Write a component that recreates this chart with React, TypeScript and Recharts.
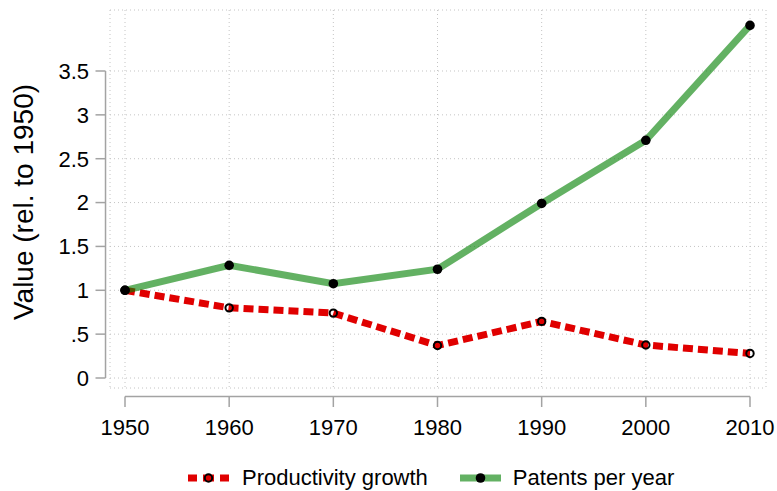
import React from 'react';
import { LineChart, Line, XAxis, YAxis, CartesianGrid, ReferenceLine, Legend } from 'recharts';

const years = [1950, 1960, 1970, 1980, 1990, 2000, 2010];
const productivityGrowth = [1, 0.8, 0.74, 0.37, 0.645, 0.376, 0.28];
const patentsPerYear = [1, 1.285, 1.075, 1.24, 1.99, 2.71, 4.02];
const yTicks = [0, 0.5, 1, 1.5, 2, 2.5, 3, 3.5];
const yTickLabels = ['0', '.5', '1', '1.5', '2', '2.5', '3', '3.5'];
const seriesNames = ['Productivity growth', 'Patents per year'];
const yTitle = 'Value (rel. to 1950)';
const yDomain = [-0.114, 4.1954];

const data = years.map((year, i) => ({
  year,
  productivity: productivityGrowth[i],
  patents: patentsPerYear[i],
}));

const FONT = '"Liberation Sans", Arial, Helvetica, sans-serif';
const AXIS_COLOR = '#a3a3a3';
const GRID_COLOR = '#c4c4c4';
const RED = '#e00000';
const GREEN = '#008000';
const GREEN_OPACITY = 0.61;

// axis line placements (Stata-style detached axes)
const Y_AXIS_LINE_X = 1948.13;
const X_AXIS_LINE_Y = -0.211;

const XTick = (props: any) => {
  const { x, y, payload } = props;
  return (
    <g>
      <line x1={x} x2={x} y1={y + 8.5} y2={y + 19} stroke={AXIS_COLOR} strokeWidth={1.5} />
      <text x={x} y={y + 46.5} textAnchor="middle" fontFamily={FONT} fontSize={22} fill="#000">
        {payload.value}
      </text>
    </g>
  );
};

const YTick = (props: any) => {
  const { x, y, payload } = props;
  const idx = yTicks.indexOf(payload.value);
  const label = idx >= 0 ? yTickLabels[idx] : String(payload.value);
  return (
    <g>
      <line x1={x - 14.5} x2={x - 4.5} y1={y} y2={y} stroke={AXIS_COLOR} strokeWidth={1.5} />
      <text x={x - 21} y={y} dy="0.36em" textAnchor="end" fontFamily={FONT} fontSize={22} fill="#000">
        {label}
      </text>
    </g>
  );
};

const YTitle = (props: any) => {
  const vb = props.viewBox || { x: 0, y: 10, width: 110, height: 378 };
  const cx = 32.5;
  const cy = vb.y + vb.height / 2 + 3;
  return (
    <text
      x={cx}
      y={cy}
      transform={`rotate(-90, ${cx}, ${cy})`}
      textAnchor="middle"
      fontFamily={FONT}
      fontSize={28}
      fill="#000"
    >
      {yTitle}
    </text>
  );
};

const GreenDot = (props: any) => {
  const { cx, cy, index } = props;
  return <circle key={`g-${index}`} cx={cx} cy={cy} r={4.8} fill="#000" stroke="none" />;
};

const RedDot = (props: any) => {
  const { cx, cy, index } = props;
  return <circle key={`r-${index}`} cx={cx} cy={cy} r={3.7} fill="none" stroke="#000" strokeWidth={2} />;
};

const LegendContent = () => (
  <div
    style={{
      position: 'relative',
      height: 28,
      fontFamily: FONT,
      fontSize: 22,
      color: '#000',
      display: 'flex',
      alignItems: 'center',
      paddingLeft: 188,
      whiteSpace: 'nowrap',
    }}
  >
    <svg width={41} height={14} style={{ display: 'block' }}>
      <rect x={0} y={3.5} width={9} height={7} fill={RED} />
      <rect x={15} y={3.5} width={11} height={7} fill={RED} />
      <rect x={32} y={3.5} width={9} height={7} fill={RED} />
      <circle cx={20.5} cy={7} r={3.7} fill="none" stroke="#000" strokeWidth={2} />
    </svg>
    <span style={{ marginLeft: 13, lineHeight: '28px' }}>{seriesNames[0]}</span>
    <svg width={41} height={14} style={{ display: 'block', marginLeft: 32 }}>
      <rect x={0} y={3.5} width={41} height={7} fill={GREEN} fillOpacity={GREEN_OPACITY} />
      <circle cx={20.5} cy={7} r={4.8} fill="#000" />
    </svg>
    <span style={{ marginLeft: 12, lineHeight: '28px' }}>{seriesNames[1]}</span>
  </div>
);

function YTitleLabel(props: any) {
  return <YTitle {...props} />;
}

export default function App() {
  return (
    <div style={{ position: 'absolute', left: 0, top: 0, width: 777, height: 491, background: '#fff' }}>
      <LineChart
        width={777}
        height={491}
        data={data}
        margin={{ top: 10, right: 11, left: 0, bottom: 43 }}
      >
        <CartesianGrid stroke={GRID_COLOR} strokeDasharray="1 3" strokeWidth={1} />
        <XAxis
          dataKey="year"
          type="number"
          domain={[1950, 2010]}
          ticks={years}
          padding={{ left: 15, right: 16 }}
          axisLine={false}
          tickLine={false}
          tickSize={0}
          tickMargin={0}
          height={60}
          tick={<XTick />}
          interval={0}
        />
        <YAxis
          type="number"
          domain={yDomain}
          ticks={yTicks}
          allowDataOverflow
          axisLine={false}
          tickLine={false}
          tickSize={0}
          tickMargin={0}
          width={110}
          tick={<YTick />}
          interval={0}
          label={<YTitleLabel />}
        />
        <ReferenceLine
          segment={[{ x: Y_AXIS_LINE_X, y: 0 }, { x: Y_AXIS_LINE_X, y: 3.5 }]}
          stroke={AXIS_COLOR}
          strokeWidth={1.5}
          ifOverflow="visible"
        />
        <ReferenceLine
          segment={[{ x: 1950, y: X_AXIS_LINE_Y }, { x: 2010, y: X_AXIS_LINE_Y }]}
          stroke={AXIS_COLOR}
          strokeWidth={1.5}
          ifOverflow="visible"
        />
        <Line
          type="linear"
          dataKey="productivity"
          name={seriesNames[0]}
          stroke={RED}
          strokeWidth={7}
          strokeDasharray="10 5"
          dot={RedDot}
          activeDot={false}
          isAnimationActive={false}
        />
        <Line
          type="linear"
          dataKey="patents"
          name={seriesNames[1]}
          stroke={GREEN}
          strokeOpacity={GREEN_OPACITY}
          strokeWidth={7}
          dot={GreenDot}
          activeDot={false}
          isAnimationActive={false}
        />
        <Legend
          layout="horizontal"
          verticalAlign="middle"
          align="center"
          wrapperStyle={{ top: 464, left: 0, width: 777, height: 28 }}
          content={<LegendContent />}
        />
      </LineChart>
    </div>
  );
}
